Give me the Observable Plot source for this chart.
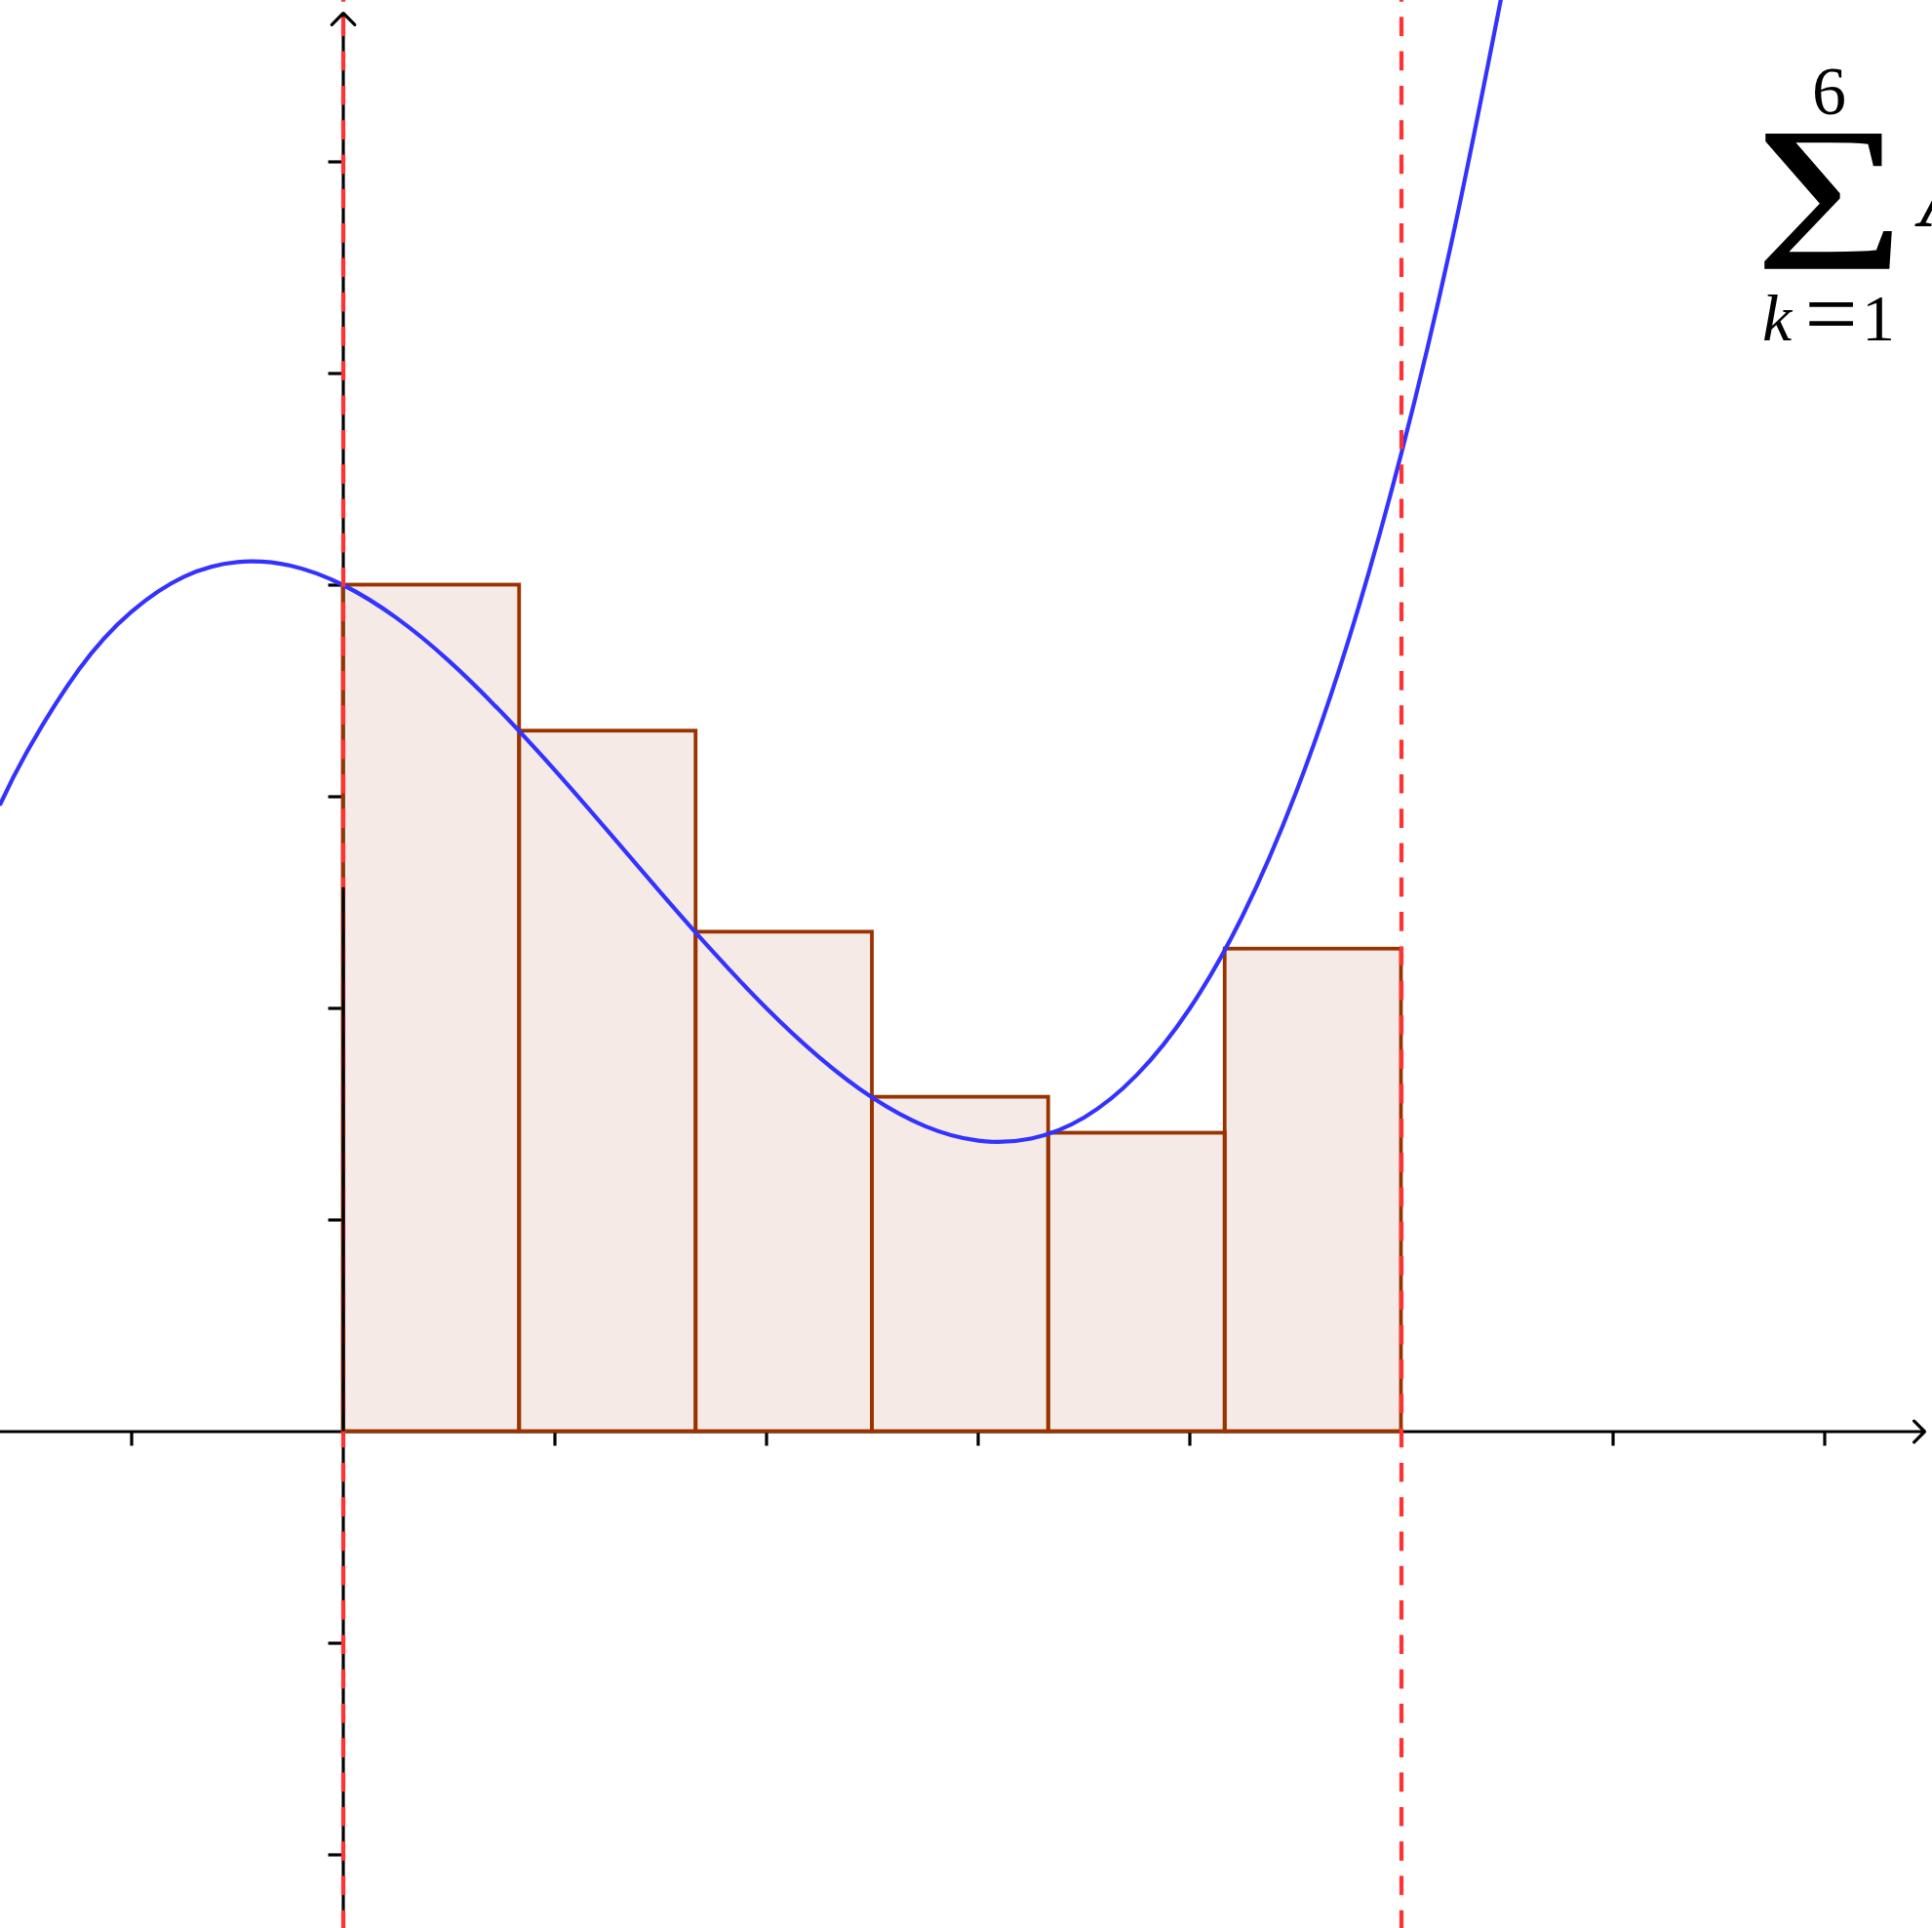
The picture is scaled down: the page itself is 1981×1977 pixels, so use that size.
<!DOCTYPE html>
<html>
<head>
<meta charset="utf-8">
<script src="https://cdn.jsdelivr.net/npm/d3@7"></script>
<script src="https://cdn.jsdelivr.net/npm/@observablehq/plot@0.6"></script>
<style>
  html, body { margin: 0; padding: 0; background: #fff; overflow: hidden; }
  #chart svg { display: block; }
</style>
</head>
<body>
<div id="chart"></div>
<script>
// Left Riemann sum over [0, 5] with six equal subintervals
const rectEdges = [0, 0.833, 1.667, 2.5, 3.333, 4.167, 5];
const rectHeights = [4.0, 3.31, 2.36, 1.58, 1.41, 2.28];

// Points along the graph of f
const curveX = [-1.62, -1.5, -1.25, -1, -0.75, -0.5, -0.25, 0, 0.25, 0.5, 0.75, 1, 1.25, 1.5,
  1.75, 2, 2.25, 2.5, 2.75, 3, 3.25, 3.5, 3.75, 4, 4.25, 4.5, 4.75, 5, 5.25, 5.5];
const curveY = [2.966, 3.203, 3.6, 3.875, 4.041, 4.109, 4.092, 4.0, 3.846, 3.641, 3.396, 3.125,
  2.838, 2.547, 2.264, 2.0, 1.768, 1.578, 1.443, 1.375, 1.385, 1.484, 1.686, 2.0, 2.439, 3.016,
  3.74, 4.625, 5.682, 6.922];

// Axis ticks (unlabelled) and the interval bounds a = 0, b = 5
const xTicks = [-1, 1, 2, 3, 4, 5, 6, 7];
const yTicks = [-2, -1, 1, 2, 3, 4, 5, 6];
const bounds = [0, 5];

const rects = rectHeights.map((h, i) => ({x1: rectEdges[i], x2: rectEdges[i + 1], h}));
const curve = curveX.map((x, i) => ({x, y: curveY[i]}));

// View window: equal scaling on both axes, origin placed left and low
const W = 1981, H = 1977;
const unit = 217;                 // pixels per unit
const ox = 351.5, oy = 1467.5;    // pixel position of the origin
const xDomain = [-ox / unit, (W - ox) / unit];
const yDomain = [(oy - H) / unit, oy / unit];
const tickLen = 15 / unit;
const xArrowTip = (1973 - ox) / unit;
const yArrowTip = (oy - 13) / unit;

const brown = "#993300";
const blue = "#3333ff";
const red = "#ff3333";
const serif = "'Liberation Serif', 'Times New Roman', serif";

const label = (s, o) => Plot.text([s], {text: d => d, fontFamily: serif, fill: "black",
  lineAnchor: "middle", textAnchor: "middle", ...o});

const chart = Plot.plot({
  width: W,
  height: H,
  margin: 0,
  x: {domain: xDomain, axis: null},
  y: {domain: yDomain, axis: null},
  marks: [
    // tick marks
    Plot.ruleX(xTicks, {x: d => d, y1: 0, y2: -tickLen, stroke: "black", strokeWidth: 3.2}),
    Plot.ruleY(yTicks, {y: d => d, x1: -tickLen, x2: 0, stroke: "black", strokeWidth: 3.2}),
    // axes with open arrowheads
    Plot.arrow([0], {x1: xDomain[0], y1: 0, x2: xArrowTip, y2: 0,
      stroke: "black", strokeWidth: 3.2, headLength: 7.2, headAngle: 90}),
    Plot.arrow([0], {x1: 0, y1: yDomain[0], x2: 0, y2: yArrowTip,
      stroke: "black", strokeWidth: 3.2, headLength: 7.8, headAngle: 90}),
    // Riemann rectangles
    Plot.rect(rects, {x1: "x1", x2: "x2", y1: 0, y2: "h",
      fill: brown, fillOpacity: 0.1, stroke: brown, strokeWidth: 3.8}),
    // graph of f
    Plot.line(curve, {x: "x", y: "y", stroke: blue, strokeWidth: 4.2,
      curve: "natural", clip: true}),
    // dashed lines x = a and x = b
    Plot.ruleX(bounds, {x: d => d, stroke: red, strokeWidth: 4.2,
      strokeDasharray: "19.7,15.6", strokeDashoffset: 18}),
    // y-axis segment drawn over the lower part of x = 0
    Plot.ruleX([0], {x: d => d, y1: 0, y2: 2.57, stroke: "black", strokeWidth: 3.2}),
    // summation notation
    label("Σ", {x: 7.023, y: 5.807, fontSize: 212}),
    label("6", {x: 7.021, y: 6.331, fontSize: 70}),
    label("k", {x: 6.705, y: 5.259, fontSize: 68, fontStyle: "italic", textAnchor: "start"}),
    label("=", {x: 7.03, y: 5.274, fontSize: 96}),
    label("1", {x: 7.253, y: 5.259, fontSize: 68}),
    label("A", {x: 7.449, y: 5.834, fontSize: 95, fontStyle: "italic", textAnchor: "start"})
  ]
});

// widen the large summation sign to display-style proportions
d3.select(chart).selectAll("text")
  .filter(function() { return this.textContent === "Σ"; })
  .attr("transform", function() {
    return `${this.getAttribute("transform") || ""} scale(1.25,1)`;
  });

document.getElementById("chart").appendChild(chart);
</script>
</body>
</html>
